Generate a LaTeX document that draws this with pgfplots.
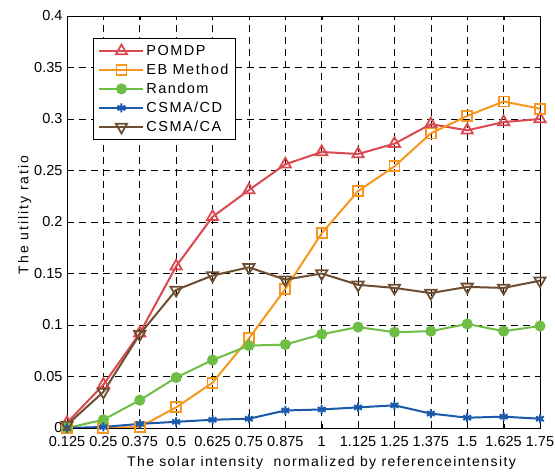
\documentclass[border=0pt]{standalone}
\usepackage{pgfplots}
\pgfplotsset{compat=1.18}
\usepackage{fontspec}
\setmainfont{Liberation Sans}
\newfontfamily\lsfont{Liberation Sans}[LetterSpace=10]
\newfontfamily\ylfont{Liberation Sans}[LetterSpace=14]
\newfontfamily\lgfont{Liberation Sans}[LetterSpace=10]
\definecolor{cP}{RGB}{218,72,80}
\definecolor{cE}{RGB}{247,150,30}
\definecolor{cR}{RGB}{110,190,70}
\definecolor{cC}{RGB}{25,90,170}
\definecolor{cA}{RGB}{110,78,48}
\begin{document}
\begin{tikzpicture}
\useasboundingbox (-67pt,-45pt) rectangle (488pt,428pt);
\begin{axis}[
  at={(0pt,0pt)}, anchor=south west,
  scale only axis, width=473pt, height=412pt,
  xmin=0.125, xmax=1.75, ymin=0, ymax=0.4,
  xtick={0.125,0.25,0.375,0.5,0.625,0.75,0.875,1,1.125,1.25,1.375,1.5,1.625,1.75},
  xticklabels={0.125,0.25,0.375,0.5,0.625,0.75,0.875,1,1.125,1.25,1.375,1.5,1.625,1.75},
  ytick={0,0.05,0.1,0.15,0.2,0.25,0.3,0.35,0.4},
  yticklabels={0,0.05,0.1,0.15,0.2,0.25,0.3,0.35,0.4},
  /pgf/number format/assume math mode=true,
  tick label style={font=\fontsize{14.5}{16}\selectfont},
  xticklabel style={yshift=-5pt},
  yticklabel style={xshift=-1pt},
  xlabel style={font=\lsfont\fontsize{14}{16}\selectfont, yshift=-3pt, xshift=18pt},
  ylabel style={font=\ylfont\fontsize{14}{16}\selectfont, yshift=-4pt, xshift=7pt},
  xlabel={The solar intensity\ \ normalized by referenceintensity},
  ylabel={The utility ratio},
  grid=major,
  major grid style={black, dashed, dash pattern=on 7pt off 5pt, line width=0.6pt},
  axis line style={black, line width=0.9pt},
  tick style={black},
  tick align=inside,
  legend style={at={(0.055,0.947)}, anchor=north west, font=\lgfont\fontsize{14.5}{16}\selectfont,
    draw=black, line width=0.9pt, row sep=3pt, inner xsep=5pt, inner ysep=5pt},
  legend cell align=left,
  legend image code/.code={\draw[mark repeat=2,mark phase=2] plot coordinates {(0pt,0pt)(22pt,0pt)(44pt,0pt)};},
  every axis plot/.append style={line width=2pt},
]
\addplot[cP, mark=triangle, mark size=6.5pt, mark options={line width=1.8pt}] coordinates {
(0.125,0.005)(0.25,0.042)(0.375,0.092)(0.5,0.157)(0.625,0.205)(0.75,0.231)(0.875,0.256)(1,0.268)(1.125,0.266)(1.25,0.276)(1.375,0.295)(1.5,0.289)(1.625,0.297)(1.75,0.300)};
\addlegendentry{POMDP}
\addplot[cE, mark=square, mark size=5pt, mark options={line width=1.8pt}] coordinates {
(0.125,0)(0.25,0)(0.375,0.001)(0.5,0.020)(0.625,0.044)(0.75,0.087)(0.875,0.135)(1,0.189)(1.125,0.230)(1.25,0.254)(1.375,0.286)(1.5,0.303)(1.625,0.317)(1.75,0.310)};
\addlegendentry{EB Method}
\addplot[cR, mark=*, mark size=4.5pt] coordinates {
(0.125,0)(0.25,0.008)(0.375,0.027)(0.5,0.049)(0.625,0.066)(0.75,0.080)(0.875,0.081)(1,0.091)(1.125,0.098)(1.25,0.093)(1.375,0.094)(1.5,0.101)(1.625,0.094)(1.75,0.099)};
\addlegendentry{Random}
\addplot[cC, mark=asterisk, mark size=4.5pt, mark options={line width=2pt}] coordinates {
(0.125,0)(0.25,0.001)(0.375,0.004)(0.5,0.006)(0.625,0.008)(0.75,0.009)(0.875,0.017)(1,0.018)(1.125,0.020)(1.25,0.022)(1.375,0.014)(1.5,0.010)(1.625,0.011)(1.75,0.009)};
\addlegendentry{CSMA/CD}
\addplot[cA, mark=triangle, mark size=6.5pt, mark options={rotate=180, line width=1.8pt}] coordinates {
(0.125,0.003)(0.25,0.035)(0.375,0.091)(0.5,0.134)(0.625,0.148)(0.75,0.156)(0.875,0.144)(1,0.150)(1.125,0.139)(1.25,0.136)(1.375,0.131)(1.5,0.137)(1.625,0.136)(1.75,0.143)};
\addlegendentry{CSMA/CA}
\end{axis}
\end{tikzpicture}
\end{document}
